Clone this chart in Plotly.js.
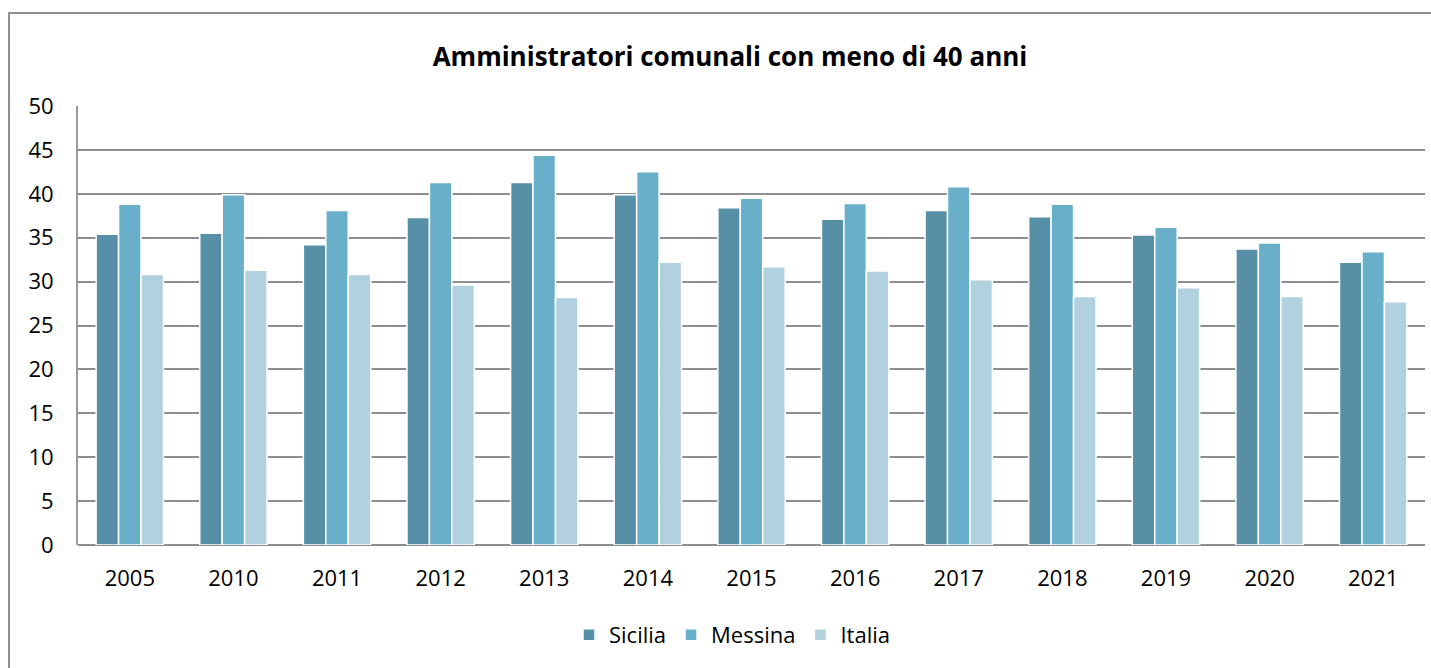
<!DOCTYPE html>
<html>
<head>
<meta charset="utf-8">
<script src="https://cdn.plot.ly/plotly-3.0.1.min.js"></script>
<style>
  html, body { margin: 0; padding: 0; background: #fff; overflow: hidden; }
  #frame { position: absolute; left: 8px; top: 12px; width: 1500px; height: 800px; border: 2px solid #8e8e8e; box-sizing: border-box; }
  #chart { position: absolute; left: 0; top: 0; width: 1431px; height: 668px; }
</style>
</head>
<body>
<div id="frame"></div>
<div id="chart"></div>
<script>
const years = ["2005","2010","2011","2012","2013","2014","2015","2016","2017","2018","2019","2020","2021"];
const sicilia = [35.4, 35.5, 34.2, 37.3, 41.3, 39.9, 38.4, 37.1, 38.1, 37.4, 35.3, 33.7, 32.2];
const messina = [38.8, 39.9, 38.1, 41.3, 44.4, 42.5, 39.5, 38.9, 40.8, 38.8, 36.2, 34.4, 33.4];
const italia  = [30.8, 31.3, 30.8, 29.6, 28.2, 32.2, 31.7, 31.2, 30.2, 28.3, 29.3, 28.3, 27.7];
const yTicks = [0, 5, 10, 15, 20, 25, 30, 35, 40, 45, 50];

const font = "'Open Sans', 'Noto Sans', sans-serif";
function series(name, vals, color) {
  return { type: "bar", name: name, x: years, y: vals,
           marker: { color: color, line: { color: "#ffffff", width: 1.5 } },
           hoverinfo: "x+y+name" };
}
const data = [
  series("Sicilia", sicilia, "#5790a6"),
  series("Messina", messina, "#6aafca"),
  series("Italia", italia, "#b1d1de")
];
const layout = {
  width: 1431, height: 668,
  paper_bgcolor: "rgba(0,0,0,0)", plot_bgcolor: "rgba(0,0,0,0)",
  margin: { l: 78, r: 6, t: 106, b: 123 },
  barmode: "group", bargap: 0.35, bargroupgap: 0,
  font: { family: font, size: 22, color: "#000" },
  title: { text: "<b>Amministratori comunali con meno di 40 anni</b>",
           font: { family: font, size: 26, color: "#000" },
           x: 730/1431, xanchor: "center", xref: "container",
           y: 1 - 57/668, yanchor: "middle", yref: "container" },
  xaxis: { type: "category", showgrid: false, zeroline: false, showline: false,
           ticks: "", ticklabelstandoff: 18, tickfont: { size: 22 } },
  yaxis: { range: [0, 50], tickvals: yTicks, ticktext: yTicks.map(String),
           showgrid: true, gridcolor: "#8e8e8e", gridwidth: 2,
           zeroline: true, zerolinecolor: "#8e8e8e", zerolinewidth: 2,
           showline: true, linecolor: "#9a9a9a", linewidth: 2,
           ticks: "", ticklabelstandoff: 18, tickfont: { size: 22 } },
  showlegend: true,
  legend: { orientation: "h", x: 732/1431, xanchor: "center", xref: "container",
            y: 1 - 635/668, yanchor: "middle", yref: "container",
            font: { size: 22 }, itemwidth: 20, traceorder: "normal" }
};
Plotly.newPlot("chart", data, layout, { displayModeBar: false, staticPlot: true });
</script>
</body>
</html>
